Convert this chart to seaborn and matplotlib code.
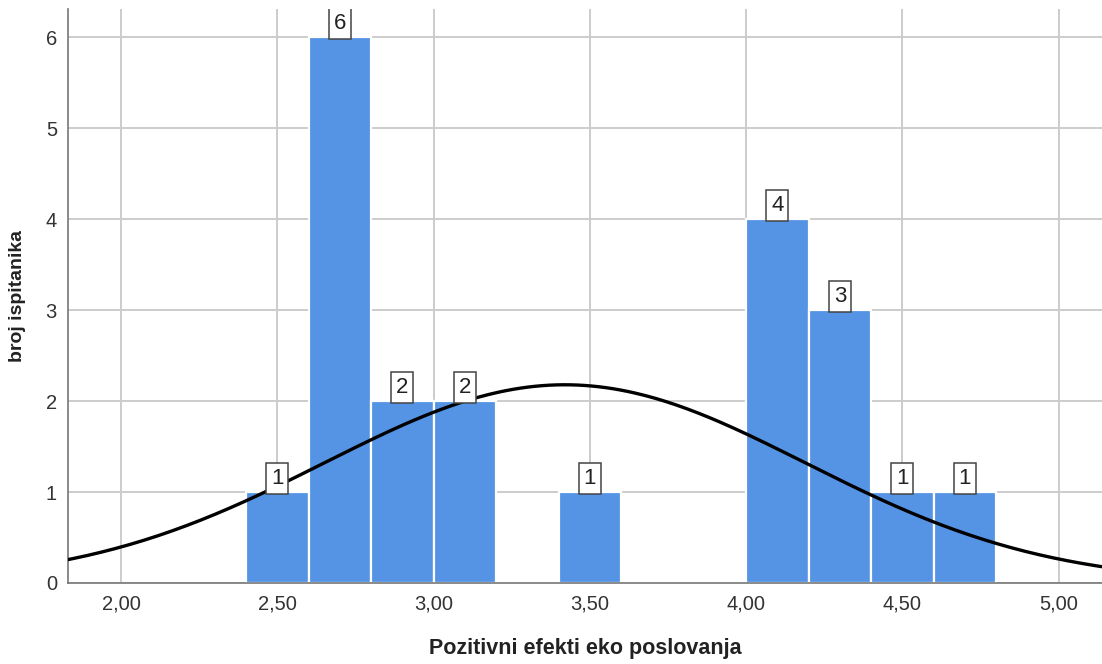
import numpy as np
import pandas as pd
import matplotlib.pyplot as plt
import seaborn as sns

# histogram data (bin left edges, width 0.2)
bin_left = [2.4, 2.6, 2.8, 3.0, 3.4, 4.0, 4.2, 4.4, 4.6]
counts = [1, 6, 2, 2, 1, 4, 3, 1, 1]
bin_width = 0.2
edges = [2.4, 2.6, 2.8, 3.0, 3.2, 3.4, 3.6, 3.8, 4.0, 4.2, 4.4, 4.6, 4.8]

# normal curve parameters
mean_val = 3.42
sd_val = 0.769
n_total = sum(counts)

x_ticks = [2.0, 2.5, 3.0, 3.5, 4.0, 4.5, 5.0]
y_ticks = [0, 1, 2, 3, 4, 5, 6]

sns.set_style("white")
plt.rcParams['font.family'] = ['Liberation Sans', 'DejaVu Sans']

fig = plt.figure(figsize=(11.02, 6.64), dpi=100)
ax = fig.add_axes([0.0617, 0.122, 0.9383, 0.8645])

df = pd.DataFrame({"mid": np.array(bin_left) + bin_width / 2, "n": counts})
sns.histplot(data=df, x="mid", weights="n", bins=edges, ax=ax,
             color="#5594e4", alpha=1, edgecolor="white", linewidth=1.6, zorder=2)

# normal curve
xs = np.linspace(1.8, 5.2, 300)
ys = n_total * bin_width / (sd_val * np.sqrt(2 * np.pi)) * np.exp(-0.5 * ((xs - mean_val) / sd_val) ** 2)
sns.lineplot(x=xs, y=ys, ax=ax, color="black", linewidth=2.4, zorder=4)

# count labels
for left, c in zip(bin_left, counts):
    ax.text(left + bin_width / 2, c + 0.035, str(c), ha="center", va="bottom",
            fontsize=16, color="#222222", zorder=5, clip_on=True,
            bbox=dict(boxstyle="square,pad=0.22", fc="white", ec="#444444", lw=1.1))

ax.set_xlim(1.83, 5.139)
ax.set_ylim(0, 6.31)
ax.set_xticks(x_ticks)
ax.set_xticklabels([f"{v:.2f}".replace(".", ",") for v in x_ticks])
ax.set_yticks(y_ticks)
ax.tick_params(axis="both", labelsize=14.5, colors="#333333", length=0, pad=8)
ax.grid(True, color="#cccccc", linewidth=1.4, zorder=0)
ax.set_axisbelow(True)

for s in ["top", "right"]:
    ax.spines[s].set_visible(False)
for s in ["left", "bottom"]:
    ax.spines[s].set_color("#777777")
    ax.spines[s].set_linewidth(1.2)

ax.set_xlabel("Pozitivni efekti eko poslovanja", fontsize=15.5, fontweight="bold", color="#222222", labelpad=18)
ax.set_ylabel("broj ispitanika", fontsize=14, fontweight="bold", color="#222222", labelpad=14)

plt.savefig("out.png", dpi=100)
